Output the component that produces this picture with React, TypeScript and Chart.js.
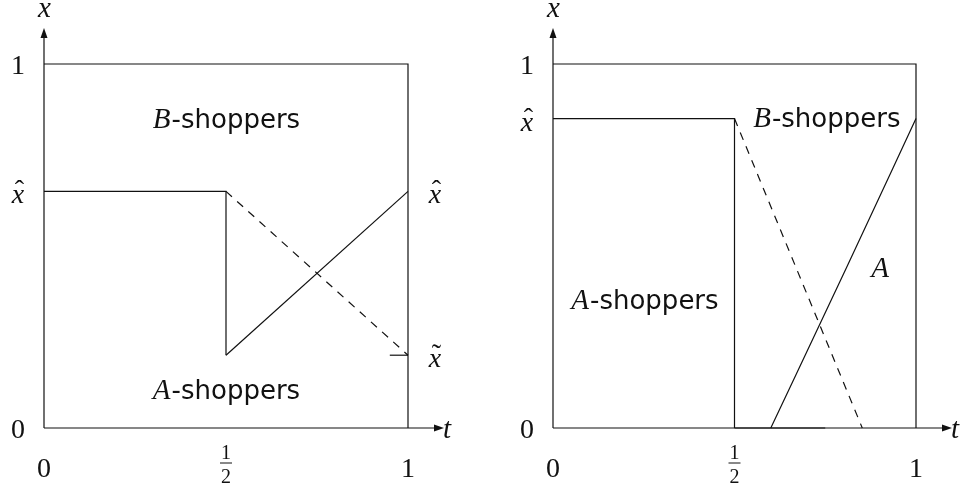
import React, { useEffect, useRef } from 'react';
import { Chart, registerables } from 'chart.js';

Chart.register(...registerables);

// ---------- shared axis data ----------
const tTickValues = [0, 0.5, 1];
const tTickLabels = ['0', '1/2', '1'];

// ---------- left panel ----------
const leftFrameT = [0, 1, 1];
const leftFrameX = [1, 1, 0];
const leftCutoffT = [0, 0.5, 0.5];
const leftCutoffX = [0.65, 0.65, 0.2];
const leftRiseT = [0.5, 1];
const leftRiseX = [0.2, 0.65];
const leftDashT = [0.5, 1];
const leftDashX = [0.65, 0.2];
const leftMarkT = [0.95, 1];
const leftMarkX = [0.2, 0.2];
const leftYTickValues = [0, 0.65, 1];
const leftYTickLabels = ['0', 'x\u0302', '1'];
const leftRightTickValues = [0.65, 0.2];
const leftRightTickLabels = ['x\u0302', 'x\u0303'];
const leftNoteT = [0.5, 0.5];
const leftNoteX = [0.85, 0.105];
const leftNoteText = ['B-shoppers', 'A-shoppers'];

// ---------- right panel ----------
const rightFrameT = [0, 1, 1];
const rightFrameX = [1, 1, 0];
const rightCutoffT = [0, 0.5, 0.5];
const rightCutoffX = [0.85, 0.85, 0];
const rightFloorT = [0.5, 0.75];
const rightFloorX = [0, 0];
const rightCurveT = [0.6, 0.81, 1];
const rightCurveX = [0, 0.444, 0.85];
const rightDashT = [0.5, 0.852];
const rightDashX = [0.85, 0];
const rightYTickValues = [0, 0.85, 1];
const rightYTickLabels = ['0', 'x\u0302', '1'];
const rightNoteT = [0.753, 0.252, 0.901];
const rightNoteX = [0.853, 0.353, 0.44];
const rightNoteText = ['B-shoppers', 'A-shoppers', 'A'];

const SERIF = '"Liberation Serif", "Times New Roman", serif';
const SANS = '"DejaVu Sans", "Noto Sans", sans-serif';
const INK = '#111';

const zip = (ts: number[], xs: number[]) => ts.map((t, i) => ({ x: t, y: xs[i] }));

function drawTickLabel(ctx: CanvasRenderingContext2D, label: string, cx: number, cy: number) {
  const size = 28;
  ctx.textAlign = 'center';
  ctx.textBaseline = 'alphabetic';
  if (label.length === 2 && (label[1] === '\u0302' || label[1] === '\u0303')) {
    const base = cy + 12;
    ctx.font = `italic ${size}px ${SERIF}`;
    ctx.fillText(label[0], cx, base);
    ctx.font = `${size}px ${SERIF}`;
    ctx.fillText(label[1] === '\u0302' ? '\u02C6' : '\u02DC', cx + 1.5, base - 4);
  } else if (label.includes('/')) {
    const [n, d] = label.split('/');
    const fs = 20;
    ctx.font = `${fs}px ${SERIF}`;
    ctx.fillText(n, cx, cy - 8);
    ctx.fillText(d, cx, cy + 16);
    ctx.beginPath();
    ctx.lineWidth = 1;
    ctx.moveTo(cx - 6, cy - 4);
    ctx.lineTo(cx + 6, cy - 4);
    ctx.stroke();
  } else {
    ctx.font = `${size}px ${SERIF}`;
    ctx.fillText(label, cx, cy + size * 0.34);
  }
}

function drawNote(ctx: CanvasRenderingContext2D, text: string, cx: number, cy: number) {
  ctx.textBaseline = 'alphabetic';
  ctx.textAlign = 'left';
  const base = cy + 9;
  const mathFont = `italic 29px ${SERIF}`;
  const sansFont = `26px ${SANS}`;
  const head = text[0];
  const rest = text.slice(1);
  ctx.font = mathFont;
  const wHead = ctx.measureText(head).width;
  ctx.font = sansFont;
  const wRest = rest ? ctx.measureText(rest).width : 0;
  const x = cx - (wHead + wRest) / 2;
  ctx.font = mathFont;
  ctx.fillText(head, x, base);
  if (rest) {
    ctx.font = sansFont;
    ctx.fillText(rest, x + wHead + 1, base);
  }
}

const diagramPlugin = {
  id: 'diagram',
  afterDatasetsDraw(chart: any, _args: any, opts: any) {
    const { ctx } = chart;
    const xs = chart.scales.x;
    const ys = chart.scales.y;
    const X = (v: number) => xs.getPixelForValue(v);
    const Y = (v: number) => ys.getPixelForValue(v);
    const x0 = X(0);
    const y0 = Y(0);
    const yTip = Y(1) - 36;
    const xTip = X(1) + 36;
    ctx.save();
    ctx.strokeStyle = INK;
    ctx.fillStyle = INK;
    ctx.lineWidth = 1.2;
    // vertical axis with arrow
    ctx.beginPath();
    ctx.moveTo(x0, y0);
    ctx.lineTo(x0, yTip + 6);
    ctx.stroke();
    ctx.beginPath();
    ctx.moveTo(x0, yTip);
    ctx.lineTo(x0 - 3.5, yTip + 10);
    ctx.lineTo(x0 + 3.5, yTip + 10);
    ctx.closePath();
    ctx.fill();
    // horizontal axis with arrow
    ctx.beginPath();
    ctx.moveTo(x0, y0);
    ctx.lineTo(xTip - 6, y0);
    ctx.stroke();
    ctx.beginPath();
    ctx.moveTo(xTip, y0);
    ctx.lineTo(xTip - 10, y0 - 3.5);
    ctx.lineTo(xTip - 10, y0 + 3.5);
    ctx.closePath();
    ctx.fill();
    // axis names
    ctx.textBaseline = 'alphabetic';
    ctx.font = `italic 29px ${SERIF}`;
    ctx.textAlign = 'center';
    ctx.fillText('x', x0 + 0.5, Y(1) - 47);
    ctx.textAlign = 'left';
    ctx.fillText('t', xTip - 1, y0 + 10);
    // t tick labels
    opts.tValues.forEach((v: number, i: number) => drawTickLabel(ctx, opts.tLabels[i], X(v), y0 + 39));
    // left tick labels
    opts.yValues.forEach((v: number, i: number) => drawTickLabel(ctx, opts.yLabels[i], x0 - 26, Y(v)));
    // right-side tick labels
    (opts.rValues || []).forEach((v: number, i: number) => drawTickLabel(ctx, opts.rLabels[i], X(1) + 27, Y(v)));
    // region notes
    opts.noteT.forEach((t: number, i: number) => drawNote(ctx, opts.noteText[i], X(t), Y(opts.noteX[i])));
    ctx.restore();
  },
};

function line(points: { x: number; y: number }[], dashed = false, smooth = false) {
  return {
    data: points,
    showLine: true,
    borderColor: INK,
    borderWidth: 1.2,
    borderDash: dashed ? [8, 7] : [],
    pointRadius: 0,
    pointHoverRadius: 0,
    fill: false,
    tension: smooth ? 0.4 : 0,
    cubicInterpolationMode: smooth ? 'monotone' : 'default',
    clip: 4,
  };
}

function Panel({ datasets, padding, plugin }: any) {
  const ref = useRef<HTMLCanvasElement>(null);
  useEffect(() => {
    if (!ref.current) return;
    const chart = new Chart(ref.current, {
      type: 'scatter',
      data: { datasets },
      options: {
        animation: false,
        responsive: false,
        maintainAspectRatio: false,
        devicePixelRatio: 1,
        layout: { padding },
        scales: {
          x: { type: 'linear', min: 0, max: 1, display: false },
          y: { type: 'linear', min: 0, max: 1, display: false },
        },
        plugins: {
          legend: { display: false },
          tooltip: { enabled: false },
          diagram: plugin,
        } as any,
        events: [],
      },
      plugins: [diagramPlugin as any],
    } as any);
    return () => chart.destroy();
  }, []);
  return <canvas ref={ref} width={483} height={490} style={{ display: 'block', width: 483, height: 490 }} />;
}

export default function App() {
  const leftSets = [
    line(zip(leftFrameT, leftFrameX)),
    line(zip(leftCutoffT, leftCutoffX)),
    line(zip(leftRiseT, leftRiseX)),
    line(zip(leftDashT, leftDashX), true),
    line(zip(leftMarkT, leftMarkX)),
  ];
  const rightSets = [
    line(zip(rightFrameT, rightFrameX)),
    line(zip(rightCutoffT, rightCutoffX)),
    line(zip(rightFloorT, rightFloorX)),
    line(zip(rightCurveT, rightCurveX), false, true),
    line(zip(rightDashT, rightDashX), true),
  ];
  const leftOpts = {
    tValues: tTickValues,
    tLabels: tTickLabels,
    yValues: leftYTickValues,
    yLabels: leftYTickLabels,
    rValues: leftRightTickValues,
    rLabels: leftRightTickLabels,
    noteT: leftNoteT,
    noteX: leftNoteX,
    noteText: leftNoteText,
  };
  const rightOpts = {
    tValues: tTickValues,
    tLabels: tTickLabels,
    yValues: rightYTickValues,
    yLabels: rightYTickLabels,
    noteT: rightNoteT,
    noteX: rightNoteX,
    noteText: rightNoteText,
  };
  return (
    <div style={{ position: 'absolute', left: 0, top: 0, width: 966, height: 490, display: 'flex', background: '#fff' }}>
      <Panel datasets={leftSets} padding={{ left: 44, right: 75, top: 64, bottom: 62 }} plugin={leftOpts} />
      <Panel datasets={rightSets} padding={{ left: 70, right: 50, top: 64, bottom: 62 }} plugin={rightOpts} />
    </div>
  );
}
